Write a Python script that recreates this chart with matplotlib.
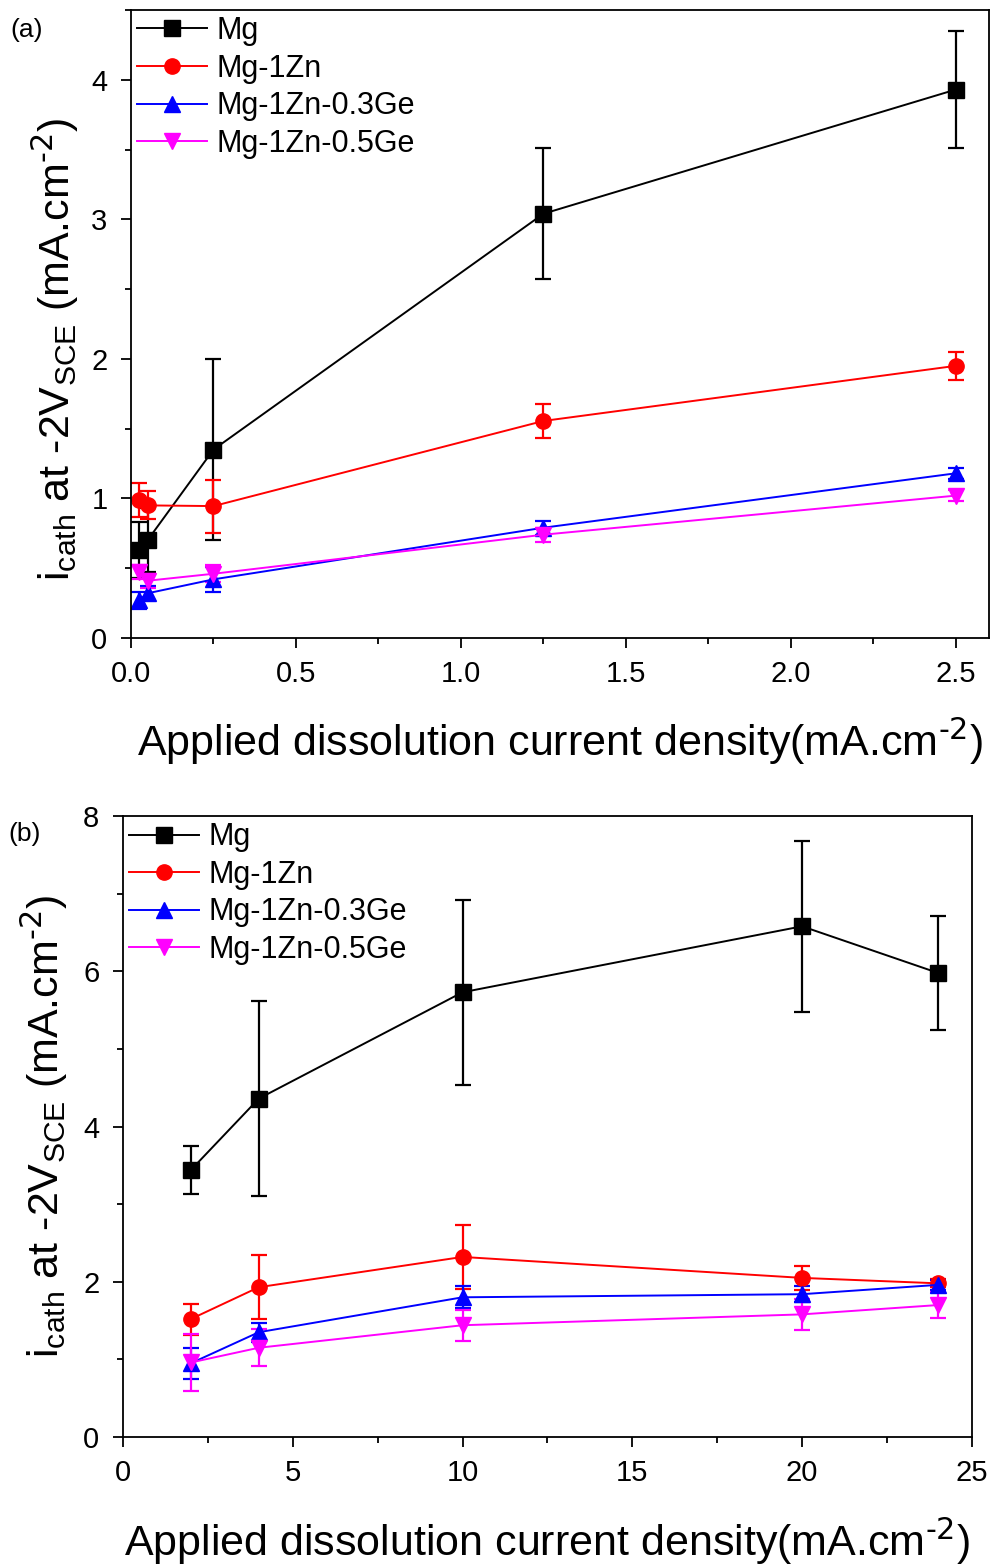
import numpy as np
import matplotlib
matplotlib.use("Agg")
import matplotlib.pyplot as plt
from matplotlib.ticker import MultipleLocator, FormatStrFormatter

plt.rcParams['font.family'] = ['Liberation Sans', 'DejaVu Sans']
plt.rcParams['mathtext.default'] = 'regular'

# ------------------------------------------------------------------
# dados (a): densidade de corrente baixa
# ------------------------------------------------------------------
labels = ['Mg', 'Mg-1Zn', 'Mg-1Zn-0.3Ge', 'Mg-1Zn-0.5Ge']
cores = ['black', 'red', 'blue', 'magenta']
marcadores = ['s', 'o', '^', 'v']

x_a = [0.025, 0.05, 0.25, 1.25, 2.5]
mg_a = [0.63, 0.70, 1.35, 3.04, 3.93]
mg_a_err = [0.20, 0.23, 0.65, 0.47, 0.42]
zn_a = [0.99, 0.95, 0.945, 1.555, 1.95]
zn_a_err = [0.12, 0.10, 0.19, 0.12, 0.10]
ge3_a = [0.27, 0.32, 0.42, 0.79, 1.18]
ge3_a_err = [0.06, 0.05, 0.09, 0.05, 0.04]
ge5_a = [0.47, 0.41, 0.46, 0.74, 1.02]
ge5_a_err = [0.05, 0.05, 0.06, 0.05, 0.04]

# ------------------------------------------------------------------
# dados (b): densidade de corrente alta
# ------------------------------------------------------------------
x_b = [2, 4, 10, 20, 24]
mg_b = [3.44, 4.36, 5.73, 6.58, 5.98]
mg_b_err = [0.31, 1.26, 1.19, 1.10, 0.73]
zn_b = [1.52, 1.93, 2.32, 2.05, 1.98]
zn_b_err = [0.20, 0.41, 0.41, 0.15, 0.05]
ge3_b = [0.95, 1.35, 1.80, 1.84, 1.96]
ge3_b_err = [0.20, 0.12, 0.14, 0.10, 0.06]
ge5_b = [0.96, 1.15, 1.44, 1.58, 1.70]
ge5_b_err = [0.37, 0.24, 0.20, 0.20, 0.17]

series_a = [(mg_a, mg_a_err), (zn_a, zn_a_err), (ge3_a, ge3_a_err), (ge5_a, ge5_a_err)]
series_b = [(mg_b, mg_b_err), (zn_b, zn_b_err), (ge3_b, ge3_b_err), (ge5_b, ge5_b_err)]

fig = plt.figure(figsize=(9.94, 15.64), dpi=100)
ax1 = fig.add_axes([0.1318, 0.5921, 0.863, 0.4015])
ax2 = fig.add_axes([0.1237, 0.0812, 0.854, 0.397])

ylabel = r'i$_{cath}$ at -2V$_{SCE}$ (mA.cm$^{\text{-2}}$)'
xlabel = r'Applied dissolution current density(mA.cm$^{\text{-2}}$)'


def desenha(ax, x, series, ylab_x, ylab_y):
    handles = []
    for (y, e), lab, c, m in zip(series, labels, cores, marcadores):
        cont = ax.errorbar(x, y, yerr=e, color=c, marker=m, markersize=11,
                           linewidth=1.4, elinewidth=1.6, capsize=6, capthick=1.6,
                           label=lab)
        handles.append(cont[0])
    ax.tick_params(which='both', direction='out', top=False, right=False,
                   labelsize=21, width=1.3)
    ax.tick_params(which='major', length=7)
    ax.tick_params(which='minor', length=4)
    ax.tick_params(axis='x', which='major', pad=9)
    ax.tick_params(axis='y', which='major', pad=10)
    for s in ax.spines.values():
        s.set_linewidth(1.3)
    ax.set_ylabel(ylabel, fontsize=31)
    ax.yaxis.set_label_coords(ylab_x, ylab_y)
    ax.set_xlabel(xlabel, fontsize=31, labelpad=20)
    ax.legend(handles, labels, loc='upper left', frameon=False, fontsize=22,
              handlelength=2.3, borderaxespad=0.0, labelspacing=0.25,
              handletextpad=0.3, borderpad=0.2)


desenha(ax1, x_a, series_a, -0.058, 0.46)
ax1.set_xlim(0, 2.6)
ax1.set_ylim(0, 4.5)
ax1.xaxis.set_major_locator(MultipleLocator(0.5))
ax1.xaxis.set_minor_locator(MultipleLocator(0.25))
ax1.xaxis.set_major_formatter(FormatStrFormatter('%.1f'))
ax1.yaxis.set_major_locator(MultipleLocator(1))
ax1.yaxis.set_minor_locator(MultipleLocator(0.5))

desenha(ax2, x_b, series_b, -0.062, 0.5)
ax2.set_xlim(0, 25)
ax2.set_ylim(0, 8)
ax2.xaxis.set_major_locator(MultipleLocator(5))
ax2.xaxis.set_minor_locator(MultipleLocator(2.5))
ax2.yaxis.set_major_locator(MultipleLocator(2))
ax2.yaxis.set_minor_locator(MultipleLocator(1))

fig.text(0.010, 0.981, '(a)', fontsize=19, va='center')
fig.text(0.008, 0.467, '(b)', fontsize=19, va='center')

fig.savefig('out.png', dpi=100)
